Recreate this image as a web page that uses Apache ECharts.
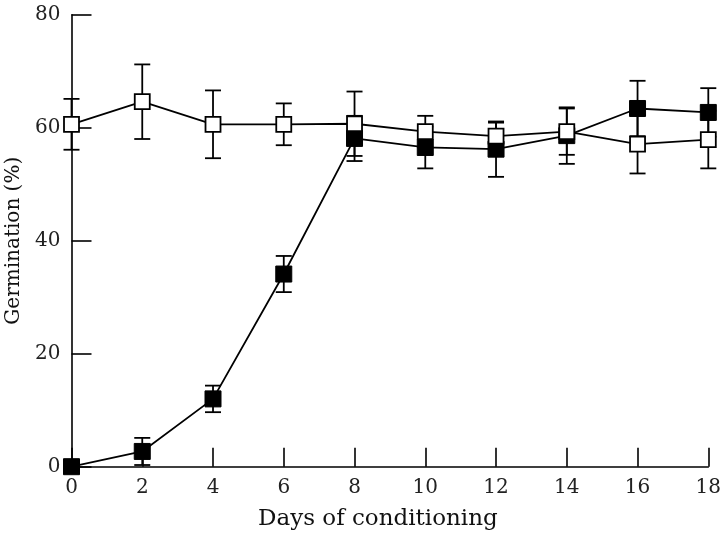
<!DOCTYPE html>
<html>
<head>
<meta charset="utf-8">
<script src="https://cdn.jsdelivr.net/npm/echarts@6/dist/echarts.min.js"></script>
<style>
html,body{margin:0;padding:0;background:#fff;}
#c{width:720px;height:534px;}
</style>
</head>
<body>
<div id="c"></div>
<script>
const days = [0, 2, 4, 6, 8, 10, 12, 14, 16, 18];
const openMean = [60.6, 64.6, 60.6, 60.6, 60.7, 59.3, 58.5, 59.3, 57.1, 57.9];
const openErr = [4.5, 6.6, 6.0, 3.7, 5.7, 2.8, 2.4, 4.1, 5.2, 5.1];
const filledMean = [0, 2.7, 12.0, 34.1, 58.1, 56.5, 56.2, 58.6, 63.4, 62.7];
const filledErr = [0, 2.4, 2.35, 3.2, 4.0, 3.7, 4.9, 5.0, 4.9, 4.3];
const yTicks = [0, 20, 40, 60, 80];
const xTicks = days;

const FONT = '"DejaVu Serif", "Liberation Serif", serif';

function pts(m) { return days.map((d, i) => [d, m[i]]); }
function errData(m, e) { return days.map((d, i) => [d, m[i], e[i]]); }

function renderErr(params, api) {
  const x = api.value(0), m = api.value(1), e = api.value(2);
  if (!e) return null;
  const top = api.coord([x, m + e]);
  const bot = api.coord([x, m - e]);
  const w = 8;
  const st = { stroke: '#000', lineWidth: 1.8 };
  return {
    type: 'group',
    children: [
      { type: 'line', shape: { x1: top[0], y1: top[1], x2: bot[0], y2: bot[1] }, style: st },
      { type: 'line', shape: { x1: top[0] - w, y1: top[1], x2: top[0] + w, y2: top[1] }, style: st },
      { type: 'line', shape: { x1: bot[0] - w, y1: bot[1], x2: bot[0] + w, y2: bot[1] }, style: st }
    ]
  };
}

const chart = echarts.init(document.getElementById('c'), null, { renderer: 'canvas' });
chart.setOption({
  animation: false,
  backgroundColor: '#fff',
  grid: { left: 71.5, right: 11.7, top: 14.7, bottom: 67.3, containLabel: false, outerBoundsMode: 'none' },
  xAxis: {
    type: 'value', min: 0, max: 18, interval: 2,
    name: 'Days of conditioning', nameLocation: 'middle', nameGap: 41,
    nameTextStyle: { fontFamily: FONT, fontSize: 23, color: '#111', padding: [0, 24, 0, 0] },
    axisLine: { show: true, lineStyle: { color: '#000', width: 1.6 } },
    axisTick: { show: true, inside: true, length: 19, lineStyle: { color: '#000', width: 1.6 } },
    axisLabel: { fontFamily: FONT, fontSize: 20, color: '#222', margin: 11,
      customValues: xTicks },
    splitLine: { show: false }
  },
  yAxis: {
    type: 'value', min: 0, max: 80, interval: 20,
    name: 'Germination (%)', nameLocation: 'middle', nameGap: 45, nameRotate: 90,
    nameTextStyle: { fontFamily: FONT, fontSize: 20, color: '#111' },
    axisLine: { show: true, lineStyle: { color: '#000', width: 1.6 } },
    axisTick: { show: true, inside: true, length: 20, lineStyle: { color: '#000', width: 1.6 } },
    axisLabel: { fontFamily: FONT, fontSize: 20, color: '#222', margin: 11,
      customValues: yTicks },
    splitLine: { show: false }
  },
  series: [
    { type: 'custom', name: 'errFilled', renderItem: renderErr, data: errData(filledMean, filledErr), clip: false, z: 1, silent: true },
    { type: 'custom', name: 'errOpen', renderItem: renderErr, data: errData(openMean, openErr), clip: false, z: 1, silent: true },
    {
      type: 'line', name: 'Filled', data: pts(filledMean), clip: false, z: 3,
      symbol: 'rect', symbolSize: 16, showAllSymbol: true,
      lineStyle: { color: '#000', width: 1.8 },
      itemStyle: { color: '#000', borderColor: '#000', borderWidth: 1 }
    },
    {
      type: 'line', name: 'Open', data: pts(openMean), clip: false, z: 4,
      symbol: 'rect', symbolSize: 15, showAllSymbol: true,
      lineStyle: { color: '#000', width: 1.8 },
      itemStyle: { color: '#fff', borderColor: '#000', borderWidth: 1.8 }
    }
  ]
});
</script>
</body>
</html>
